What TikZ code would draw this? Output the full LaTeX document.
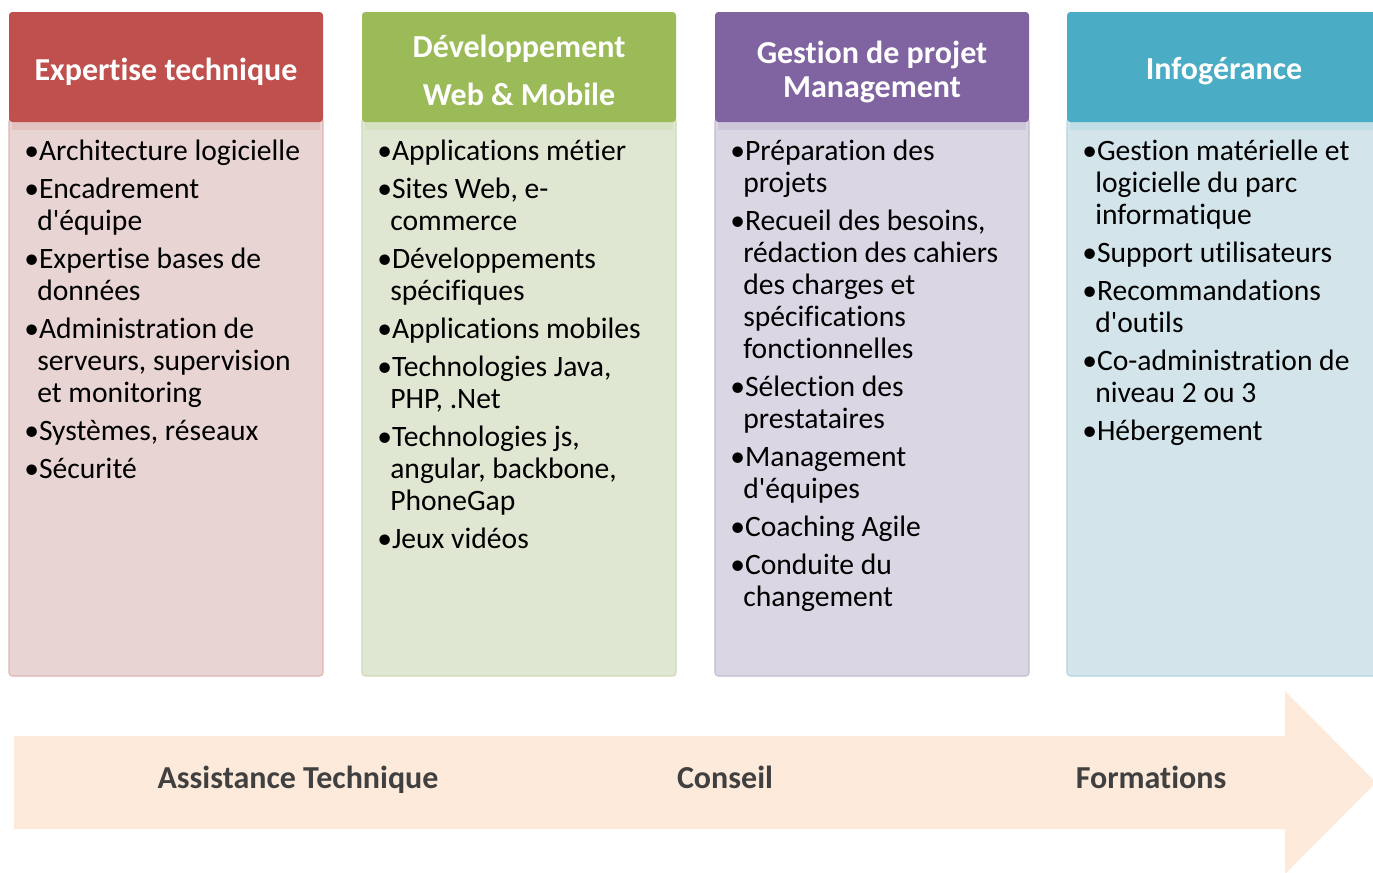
\documentclass[tikz,border=0pt]{standalone}
\usepackage{fontspec}
\setmainfont{Carlito}[RawFeature=-liga]
\definecolor{hRed}{HTML}{C0504D}
\definecolor{hGreen}{HTML}{9BBB59}
\definecolor{hPurple}{HTML}{8064A2}
\definecolor{hBlue}{HTML}{4BACC6}
\definecolor{bRed}{HTML}{E9D4D4}
\definecolor{bGreen}{HTML}{DFE7D2}
\definecolor{bPurple}{HTML}{DAD6E3}
\definecolor{bBlue}{HTML}{D3E5EB}
\definecolor{arrowFill}{HTML}{FDEADA}
\definecolor{labGray}{HTML}{404040}
\newcommand{\bul}{\textbullet}
\newcommand{\ind}{\hspace*{0.44em}}
\newcommand{\gap}{\\[4.5pt]}
\newcommand{\ap}{\textquotesingle}
\begin{document}
\begin{tikzpicture}[x=0.75pt,y=-0.75pt,
  head/.style={rounded corners=2.5pt},
  bodybox/.style={rounded corners=2.5pt},
  headtext/.style={text=white,font=\fontsize{24pt}{26pt}\selectfont\bfseries,align=center,inner sep=0pt},
  bodytext/.style={anchor=north west,align=left,inner sep=0pt,font=\fontsize{22.2pt}{24pt}\selectfont},
  labtext/.style={anchor=base,text=labGray,font=\fontsize{24pt}{26pt}\selectfont\bfseries,inner sep=0pt}]
\useasboundingbox (0,0) rectangle (1373,872);
\clip (0,0) rectangle (1373,872);
% columns
\foreach \xa/\hc/\bc in {9/hRed/bRed,362/hGreen/bGreen,715/hPurple/bPurple,1067/hBlue/bBlue}{
  \fill[\bc, draw=\hc!25!\bc, line width=0.8pt, bodybox] (\xa,118) rectangle ++(314,558);
  \fill[\hc, opacity=0.13] (\xa+3,122) rectangle ++(308,8);
  \fill[\hc, head] (\xa,12) rectangle ++(314,110);
}
% headers
\node[headtext] (h1) at (166,71.5) {Expertise technique};
\node[headtext] (h2) at (519,70.5) {Développement\\[10pt]Web \& Mobile};
\node[headtext] (h3) at (872,72) {Gestion de projet\\[0pt]Management};
\node[headtext] (h4) at (1224,71.5) {Infogérance};
% bodies
\node[bodytext] (c1) at (24,140) {\bul Architecture logicielle\gap
\bul Encadrement\\\ind d\ap équipe\gap
\bul Expertise bases de\\\ind données\gap
\bul Administration de\\\ind serveurs, supervision\\\ind et monitoring\gap
\bul Systèmes, réseaux\gap
\bul Sécurité};
\node[bodytext] (c2) at (377,140) {\bul Applications métier\gap
\bul Sites Web, e-\\\ind commerce\gap
\bul Développements\\\ind spécifiques\gap
\bul Applications mobiles\gap
\bul Technologies Java,\\\ind PHP, .Net\gap
\bul Technologies js,\\\ind angular, backbone,\\\ind PhoneGap\gap
\bul Jeux vidéos};
\node[bodytext] (c3) at (730,140) {\bul Préparation des\\\ind projets\gap
\bul Recueil des besoins,\\\ind rédaction des cahiers\\\ind des charges et\\\ind spécifications\\\ind fonctionnelles\gap
\bul Sélection des\\\ind prestataires\gap
\bul Management\\\ind d\ap équipes\gap
\bul Coaching Agile\gap
\bul Conduite du\\\ind changement};
\node[bodytext] (c4) at (1082,140) {\bul Gestion matérielle et\\\ind logicielle du parc\\\ind informatique\gap
\bul Support utilisateurs\gap
\bul Recommandations\\\ind d\ap outils\gap
\bul Co-administration de\\\ind niveau 2 ou 3\gap
\bul Hébergement};
% arrow
\fill[arrowFill] (14,736) -- (1285,736) -- (1285,691) -- (1376,782.5) -- (1285,874) -- (1285,829) -- (14,829) -- cycle;
\node[labtext] (l1) at (298,788) {Assistance Technique};
\node[labtext] (l2) at (725,788) {Conseil};
\node[labtext] (l3) at (1151,788) {Formations};
\end{tikzpicture}
\end{document}
